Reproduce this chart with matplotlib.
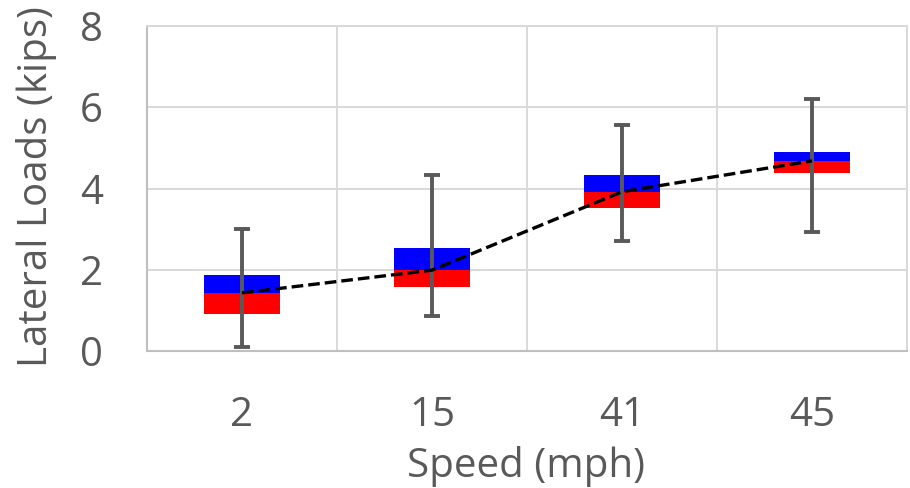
import matplotlib
matplotlib.use("Agg")
import matplotlib.pyplot as plt
import numpy as np

speeds = ["2", "15", "41", "45"]
q1 = [0.90, 1.57, 3.51, 4.38]
median = [1.43, 1.99, 3.92, 4.68]
q3 = [1.87, 2.54, 4.33, 4.90]
whisker_low = [0.11, 0.87, 2.71, 2.93]
whisker_high = [3.00, 4.34, 5.56, 6.21]

plt.rcParams['font.family'] = ['Open Sans', 'DejaVu Sans']
text_color = '#595959'
fs = 29

fig = plt.figure(figsize=(9.1, 4.88), dpi=100)
ax = fig.add_axes([147/910, 1 - 351/488, 760/910, 325/488])

x = np.arange(len(speeds))
q1a, meda, q3a = np.array(q1), np.array(median), np.array(q3)
ax.bar(x, meda - q1a, bottom=q1a, width=0.4, color='#ff0000', zorder=2)
ax.bar(x, q3a - meda, bottom=meda, width=0.4, color='#0000ff', zorder=2)

mid = (np.array(whisker_low) + np.array(whisker_high)) / 2
err = [mid - np.array(whisker_low), np.array(whisker_high) - mid]
ax.errorbar(x, mid, yerr=err, fmt='none', ecolor='#595959', elinewidth=2.8,
            capsize=6, capthick=2.8, zorder=3)

ax.plot(x, median, color='black', linestyle=(0, (3.5, 1.5)), linewidth=2.4, zorder=4)

ax.set_xlim(-0.5, len(speeds) - 0.5)
ax.set_ylim(0, 8)
ax.set_yticks([0, 2, 4, 6, 8])
ax.set_xticks(x)
ax.set_xticklabels(speeds)
ax.set_xticks(np.arange(len(speeds) + 1) - 0.5, minor=True)
ax.grid(True, axis='y', which='major', color='#d9d9d9', linewidth=1.4, zorder=0)
ax.grid(True, axis='x', which='minor', color='#d9d9d9', linewidth=1.4, zorder=0)
ax.set_axisbelow(True)
ax.tick_params(which='both', length=0)
ax.tick_params(axis='y', labelsize=fs, colors=text_color, pad=40)
ax.tick_params(axis='x', labelsize=fs, colors=text_color, pad=32)
for lab in ax.get_yticklabels():
    lab.set_horizontalalignment('center')

for s in ['left', 'bottom']:
    ax.spines[s].set_color('#bfbfbf')
    ax.spines[s].set_linewidth(1.5)
for s in ['top', 'right']:
    ax.spines[s].set_color('#d9d9d9')
    ax.spines[s].set_linewidth(1.4)

ax.set_xlabel('Speed (mph)', fontsize=fs, color=text_color)
ax.set_ylabel('Lateral Loads (kips)', fontsize=fs, color=text_color)
ax.xaxis.set_label_coords(0.4987, -0.292)
ax.yaxis.set_label_coords(-0.118, 0.505)

fig.savefig('out.png', dpi=100)
